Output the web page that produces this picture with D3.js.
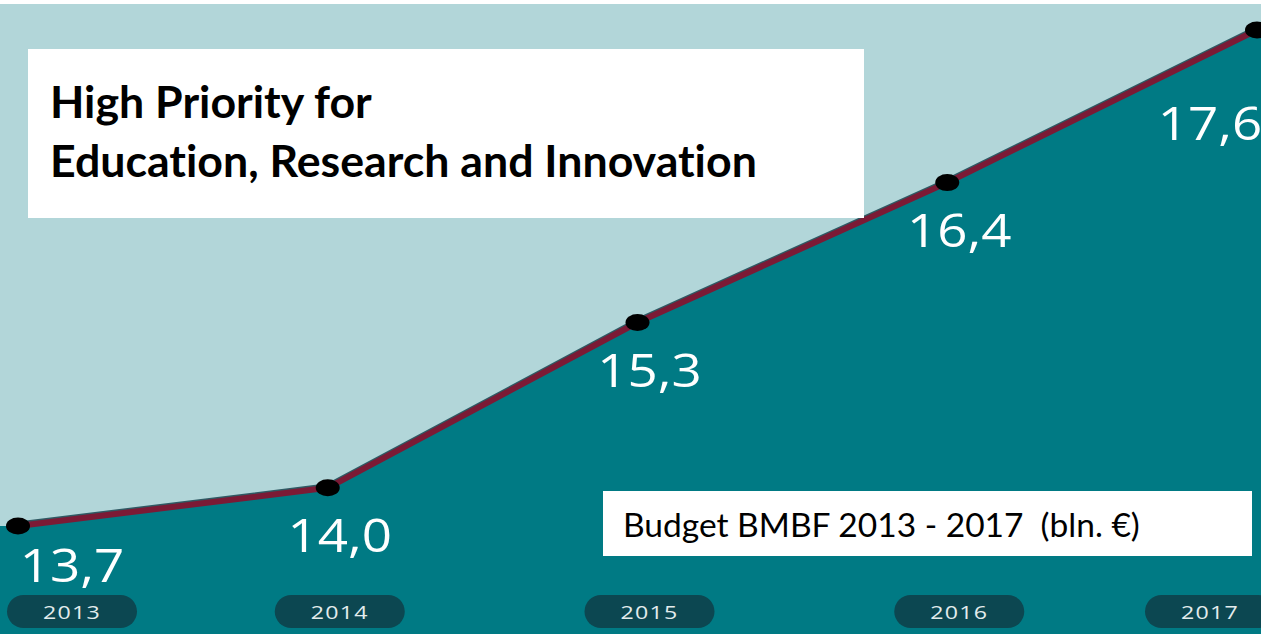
<!DOCTYPE html>
<html>
<head>
<meta charset="utf-8">
<script src="https://cdn.jsdelivr.net/npm/d3@7"></script>
<style>
  html, body { margin: 0; padding: 0; background: #ffffff; }
  svg { display: block; }
  text { font-variant-ligatures: none; font-feature-settings: "liga" 0, "clig" 0; }
</style>
</head>
<body>
<svg id="chart" width="1261" height="634"></svg>
<script>
// ---- data ----
const years = [2013, 2014, 2015, 2016, 2017];
const budget = [13.7, 14.0, 15.3, 16.4, 17.6];
const valueLabels = ["13,7", "14,0", "15,3", "16,4", "17,6"];
const yearLabels = ["2013", "2014", "2015", "2016", "2017"];
const titleLines = ["High Priority for", "Education, Research and Innovation"];
const noteText = "Budget BMBF 2013 - 2017\u00a0\u00a0(bln. \u20ac)";

const W = 1261, H = 634;
const svg = d3.select("#chart");
const data = years.map((y, i) => ({ year: y, value: budget[i], label: valueLabels[i], yl: yearLabels[i] }));

const x = d3.scaleLinear().domain(d3.extent(years)).range([18, 1257]);
const y = d3.scaleLinear().domain(d3.extent(budget)).range([526, 30]);

// background
svg.append("rect").attr("x", 0).attr("y", 0).attr("width", W).attr("height", H).attr("fill", "#b2d6d9");
svg.append("rect").attr("x", 0).attr("y", 0).attr("width", W).attr("height", 4).attr("fill", "#ffffff");

// area under line
const areaPts = [{ px: 0, py: y(budget[0]) }].concat(data.map(d => ({ px: x(d.year), py: y(d.value) })));
areaPts.push({ px: W, py: y(budget[budget.length - 1]) });
const area = d3.area().x(d => d.px).y0(H).y1(d => d.py);
svg.append("path").datum(areaPts).attr("d", area).attr("fill", "#007a84");

// line
const line = d3.line().x(d => x(d.year)).y(d => y(d.value));
svg.append("path").datum(data).attr("d", line)
  .attr("fill", "none").attr("stroke", "#2f5963").attr("stroke-width", 6).attr("stroke-linejoin", "round")
  .attr("transform", "translate(0,-1.5)");
svg.append("path").datum(data).attr("d", line)
  .attr("fill", "none").attr("stroke", "#7b1a35").attr("stroke-width", 6).attr("stroke-linejoin", "round");

// dots
svg.selectAll("ellipse.dot").data(data).join("ellipse").attr("class", "dot")
  .attr("cx", d => x(d.year)).attr("cy", d => y(d.value))
  .attr("rx", 12).attr("ry", 8.5).attr("fill", "#000000");

// label / pill x positions (clamped to stay inside)
const pillW = 130, pillH = 33;
const pillCY = 611.5;
const lx = d => Math.max(72, Math.min(1210, x(d.year) + 12));

// value labels
const last = data.length - 1;
const ly = (d, i) => Math.min(y(d.value) + (i === last ? 110 : 64), pillCY - pillH / 2 - 13);
svg.selectAll("text.val").data(data).join("text").attr("class", "val")
  .attr("transform", (d, i) => `translate(${lx(d)},${ly(d, i)}) scale(1.15,1)`)
  .attr("text-anchor", "middle")
  .attr("font-family", "'Open Sans', sans-serif")
  .attr("font-size", 46)
  .attr("fill", "#ffffff")
  .text(d => d.label);

// year pills
const pills = svg.selectAll("g.pill").data(data).join("g").attr("class", "pill")
  .attr("transform", d => `translate(${lx(d)},${pillCY})`);
pills.append("rect")
  .attr("x", -pillW / 2).attr("y", -pillH / 2).attr("width", pillW).attr("height", pillH)
  .attr("rx", pillH / 2).attr("fill", "#0c4751");
pills.append("text")
  .attr("text-anchor", "middle").attr("transform", "translate(0,7) scale(1.22,1)")
  .attr("font-family", "'Open Sans', sans-serif").attr("font-size", 19)
  .attr("letter-spacing", 1)
  .attr("fill", "#e3eced")
  .text(d => d.yl);

// title box
svg.append("rect").attr("x", 28).attr("y", 49).attr("width", 836).attr("height", 169).attr("fill", "#ffffff");
const t1 = svg.append("text").attr("x", 50).attr("y", 118)
  .attr("font-family", "Lato, 'Open Sans', sans-serif").attr("font-weight", 700).attr("fill", "#000")
  .attr("font-size", 40).text(titleLines[0]);
const t2 = svg.append("text").attr("x", 50).attr("y", 177)
  .attr("font-family", "Lato, 'Open Sans', sans-serif").attr("font-weight", 700).attr("fill", "#000")
  .attr("font-size", 40).text(titleLines[1]);
const w2 = t2.node().getComputedTextLength();
const fs = 40 * 707 / w2;
t1.attr("font-size", fs);
t2.attr("font-size", fs);

// note box
svg.append("rect").attr("x", 603).attr("y", 491).attr("width", 649).attr("height", 65).attr("fill", "#ffffff");
const nt = svg.append("text").attr("x", 623).attr("y", 537)
  .attr("font-family", "Lato, 'Open Sans', sans-serif").attr("fill", "#000")
  .attr("font-size", 30).text(noteText);
const wn = nt.node().getComputedTextLength();
nt.attr("font-size", 30 * 517 / wn);
</script>
</body>
</html>
